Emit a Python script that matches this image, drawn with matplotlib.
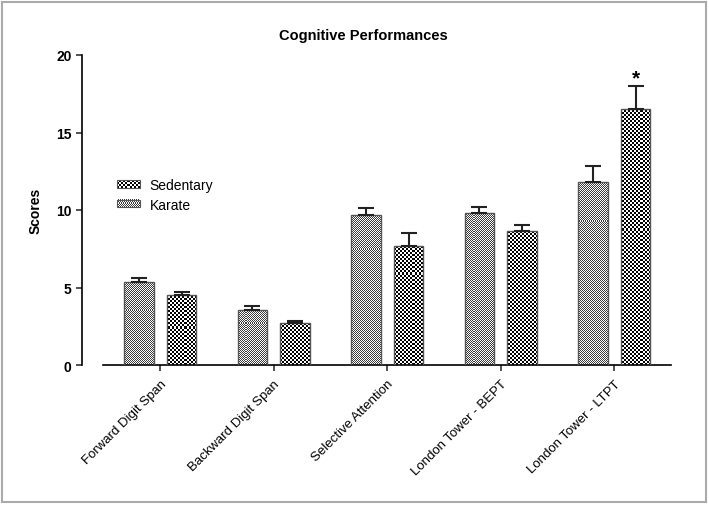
import numpy as np
import matplotlib
matplotlib.use("Agg")
import matplotlib.pyplot as plt
from matplotlib.patches import Rectangle
from matplotlib.legend_handler import HandlerPatch
from matplotlib.image import BboxImage
from matplotlib.transforms import Bbox, TransformedBbox
from matplotlib.colors import ListedColormap

plt.rcParams['font.family'] = ['Liberation Sans', 'DejaVu Sans']

# data
tests = ['Forward Digit Span', 'Backward Digit Span', 'Selective Attention',
         'London Tower - BEPT', 'London Tower - LTPT']
fine_vals = [5.37, 3.57, 9.70, 9.79, 11.83]
fine_err = [0.26, 0.21, 0.45, 0.42, 1.03]
coarse_vals = [4.52, 2.69, 7.70, 8.63, 16.52]
coarse_err = [0.21, 0.13, 0.79, 0.42, 1.46]
legend_labels = ['Sedentary', 'Karate']

W, H = 709, 506
fig = plt.figure(figsize=(W / 100, H / 100), dpi=100)
ax_l, ax_r, ax_t, ax_b = 82, 671, 56, 366
ax = fig.add_axes([ax_l / W, 1 - ax_b / H, (ax_r - ax_l) / W, (ax_b - ax_t) / H])

x = np.arange(len(tests))
off = 0.188
bw = 0.26

fine_cmap = ListedColormap(['#ffffff', '#3a3a3a'])
coarse_cmap = ListedColormap(['#ffffff', '#000000'])


def checker(rows, cols):
    return np.indices((rows, cols)).sum(axis=0) % 2


pw, ph = ax_r - ax_l, ax_b - ax_t


def fill_bars(bars, cell, cmap):
    arr = checker(ph // cell, pw // cell)
    ext = [0, (pw // cell) * cell / pw, 1 - (ph // cell) * cell / ph, 1]
    for b in bars:
        im = ax.imshow(arr, cmap=cmap, interpolation='nearest', aspect='auto',
                       extent=ext, transform=ax.transAxes, zorder=2)
        im.set_clip_path(b)


b1 = ax.bar(x - off, fine_vals, bw, facecolor='none', edgecolor='#555555',
            linewidth=1, zorder=3)
b2 = ax.bar(x + off, coarse_vals, bw, facecolor='none', edgecolor='#555555',
            linewidth=1, zorder=3)
fill_bars(b1, 1, fine_cmap)
fill_bars(b2, 2, coarse_cmap)

ax.errorbar(x - off, fine_vals, yerr=[np.zeros(5), fine_err], fmt='none',
            ecolor='#222222', elinewidth=1.5, capsize=5.5, capthick=1.5, zorder=4)
ax.errorbar(x + off, coarse_vals, yerr=[np.zeros(5), coarse_err], fmt='none',
            ecolor='#222222', elinewidth=1.5, capsize=5.5, capthick=1.5, zorder=4)

# significance mark
ax.text(x[4] + off, coarse_vals[4] + coarse_err[4] - 0.05, '*', ha='center',
        va='bottom', fontsize=15, fontweight='bold')

ax.set_xlim(-0.689, 4.5)
ax.set_ylim(0, 20)
ax.set_yticks([0, 5, 10, 15, 20])
ax.set_xticks(x)
ax.set_xticklabels(tests, rotation=45, ha='right', va='top',
                   rotation_mode='anchor', fontsize=9.5)
for lbl in ax.get_yticklabels():
    lbl.set_fontweight('bold')
    lbl.set_fontsize(10)
ax.spines['top'].set_visible(False)
ax.spines['right'].set_visible(False)
ax.spines['left'].set_linewidth(1.2)
ax.spines['bottom'].set_linewidth(1.2)
ax.spines['bottom'].set_bounds(-0.5, 4.5)
ax.tick_params(axis='both', length=4, width=1.1, color='#222222')
ax.tick_params(axis='x', pad=5)
ax.set_ylabel('Scores', fontsize=10, fontweight='bold', labelpad=10)

fig.text(363 / W, 1 - 36 / H, 'Cognitive Performances', ha='center',
         va='center', fontsize=10.5, fontweight='bold')


class HandlerChecker(HandlerPatch):
    def __init__(self, cell, cmap):
        super().__init__()
        self.cell = cell
        self.cmap = cmap

    def create_artists(self, legend, orig_handle, xdescent, ydescent, width,
                       height, fontsize, trans):
        bb = TransformedBbox(Bbox.from_bounds(-xdescent, -ydescent, width, height),
                             trans)
        img = BboxImage(bb, cmap=self.cmap, interpolation='nearest')
        img.set_data(checker(max(int(round(height * 1.39 / self.cell)), 1),
                             max(int(round(width * 1.39 / self.cell)), 1)))
        rect = Rectangle((-xdescent, -ydescent), width, height,
                         facecolor='none', edgecolor='#555555', linewidth=0.8,
                         transform=trans)
        return [img, rect]


h_sed = Rectangle((0, 0), 1, 1)
h_kar = Rectangle((0, 0), 1, 1)
ax.legend([h_sed, h_kar], legend_labels,
          handler_map={h_sed: HandlerChecker(2, coarse_cmap),
                       h_kar: HandlerChecker(1, fine_cmap)},
          loc='upper left', bbox_to_anchor=((117 - ax_l) / pw, (ax_b - 179) / ph),
          frameon=False, borderpad=0, borderaxespad=0, handlelength=1.65,
          handleheight=0.45, handletextpad=0.7, labelspacing=0.4, fontsize=10)

fig.add_artist(Rectangle((2 / W, 3 / H), 704 / W, 500 / H, transform=fig.transFigure,
                         fill=False, edgecolor='#aaaaaa', linewidth=1.5))

fig.savefig('out.png', dpi=100)
